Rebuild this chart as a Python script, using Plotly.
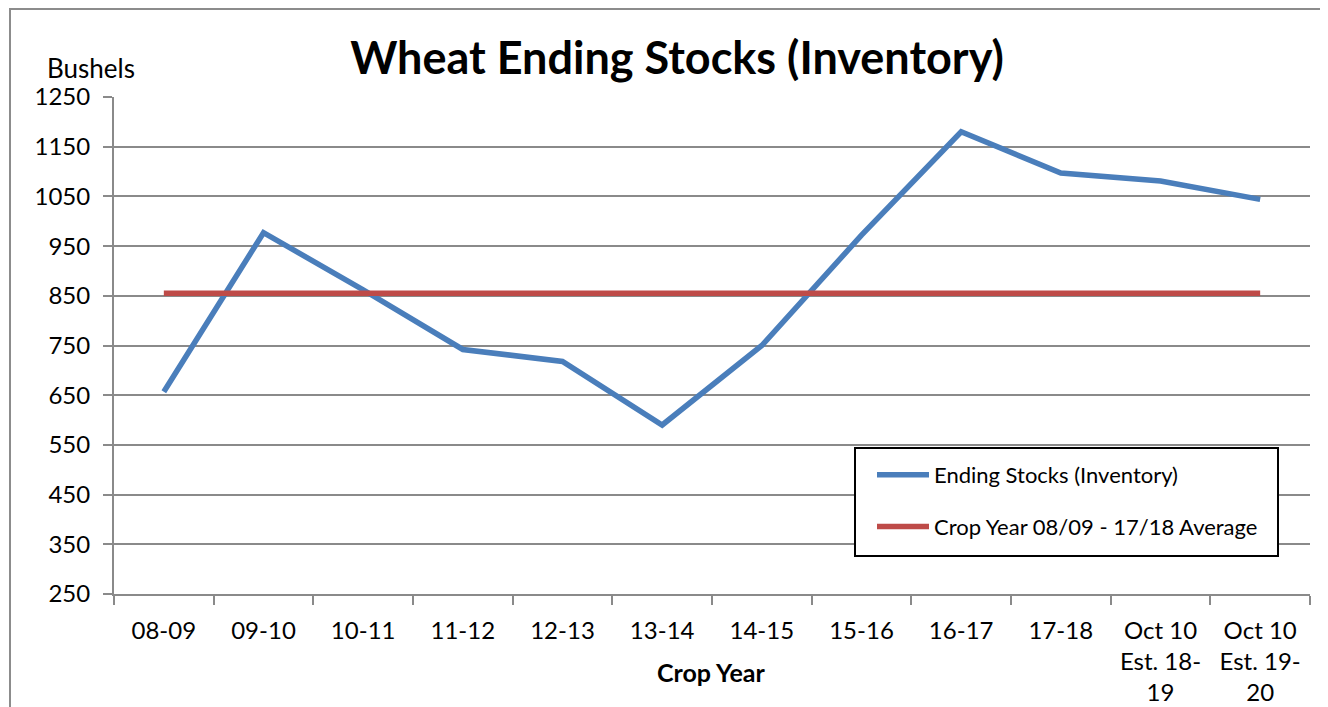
import plotly.graph_objects as go

categories = ["08-09", "09-10", "10-11", "11-12", "12-13", "13-14", "14-15",
              "15-16", "16-17", "17-18", "Oct 10<br>Est. 18-<br>19", "Oct 10<br>Est. 19-<br>20"]
ending_stocks = [657, 977, 862, 742, 718, 590, 750, 972, 1180, 1097, 1081, 1044]
average = [855] * 12
y_ticks = [250, 350, 450, 550, 650, 750, 850, 950, 1050, 1150, 1250]

FONT = "Lato"
GRID = "#8a8a8a"
OFF = 8  # page body margin
W, H = 1328 - OFF, 707 - OFF
L, T = 114 - OFF, 97 - OFF
R, B = W - (1310 - OFF), H - (594 - OFF)
PW, PH = W - L - R, H - T - B


def px(x):  # screen x -> paper x
    return (x - 114) / PW


def py(y):  # screen y -> paper y
    return (594 - y) / PH


fig = go.Figure()
fig.add_trace(go.Scatter(
    x=categories, y=ending_stocks, mode="lines",
    name="Ending Stocks (Inventory)",
    line=dict(color="#4a7ebb", width=5.5), legendgroup="a"))
fig.add_trace(go.Scatter(
    x=categories, y=average, mode="lines",
    name="Crop Year 08/09 - 17/18 Average",
    line=dict(color="#be4b48", width=5.5), legendgroup="b"))

fig.update_layout(
    width=W, height=H,
    margin=dict(l=L, r=R, t=T, b=B, autoexpand=False),
    paper_bgcolor="white", plot_bgcolor="white",
    font=dict(family=FONT, size=22, color="black"),
    title=dict(text="<b>Wheat Ending Stocks (Inventory)</b>",
               font=dict(family=FONT, size=45, color="black"),
               x=(677 - OFF) / W, xanchor="center", y=1 - (58 - OFF) / H, yanchor="middle"),
    legend=dict(x=px(872), y=py(454), xanchor="left", yanchor="top",
                borderwidth=0, bgcolor="rgba(0,0,0,0)",
                font=dict(family=FONT, size=22), tracegroupgap=20,
                itemwidth=52),
    showlegend=True,
)
fig.update_xaxes(
    type="category", range=[-0.5, 11.5], automargin=False,
    showgrid=False, showline=True, linecolor=GRID, linewidth=2,
    ticks="outside", tickson="boundaries", ticklen=9, tickwidth=2, tickcolor=GRID,
    tickfont=dict(family=FONT, size=24), ticklabelstandoff=14,
)
fig.update_yaxes(
    range=[250, 1250], tickvals=y_ticks, automargin=False,
    showgrid=True, gridcolor=GRID, gridwidth=2,
    showline=True, linecolor=GRID, linewidth=2,
    ticks="outside", ticklen=9, tickwidth=2, tickcolor=GRID,
    tickfont=dict(family=FONT, size=24), zeroline=False, ticklabelstandoff=8,
)
fig.add_annotation(text="Bushels", xref="paper", yref="paper",
                   x=px(45), y=py(68),
                   xanchor="left", yanchor="middle", showarrow=False,
                   font=dict(family=FONT, size=26))
fig.add_annotation(text="<b>Crop Year</b>", xref="paper", yref="paper",
                   x=px(711), y=py(672),
                   xanchor="center", yanchor="middle", showarrow=False,
                   font=dict(family=FONT, size=25))
# outer chart frame
fig.add_shape(type="rect", xref="paper", yref="paper",
              x0=px(10), x1=1.2, y0=-0.5, y1=py(9),
              line=dict(color="#8c8c8c", width=2), layer="below")
# legend box
fig.add_shape(type="rect", xref="paper", yref="paper",
              x0=px(855), x1=px(1278), y0=py(556), y1=py(448),
              line=dict(color="black", width=2), fillcolor="white", layer="above")

fig.write_html("out.html")
